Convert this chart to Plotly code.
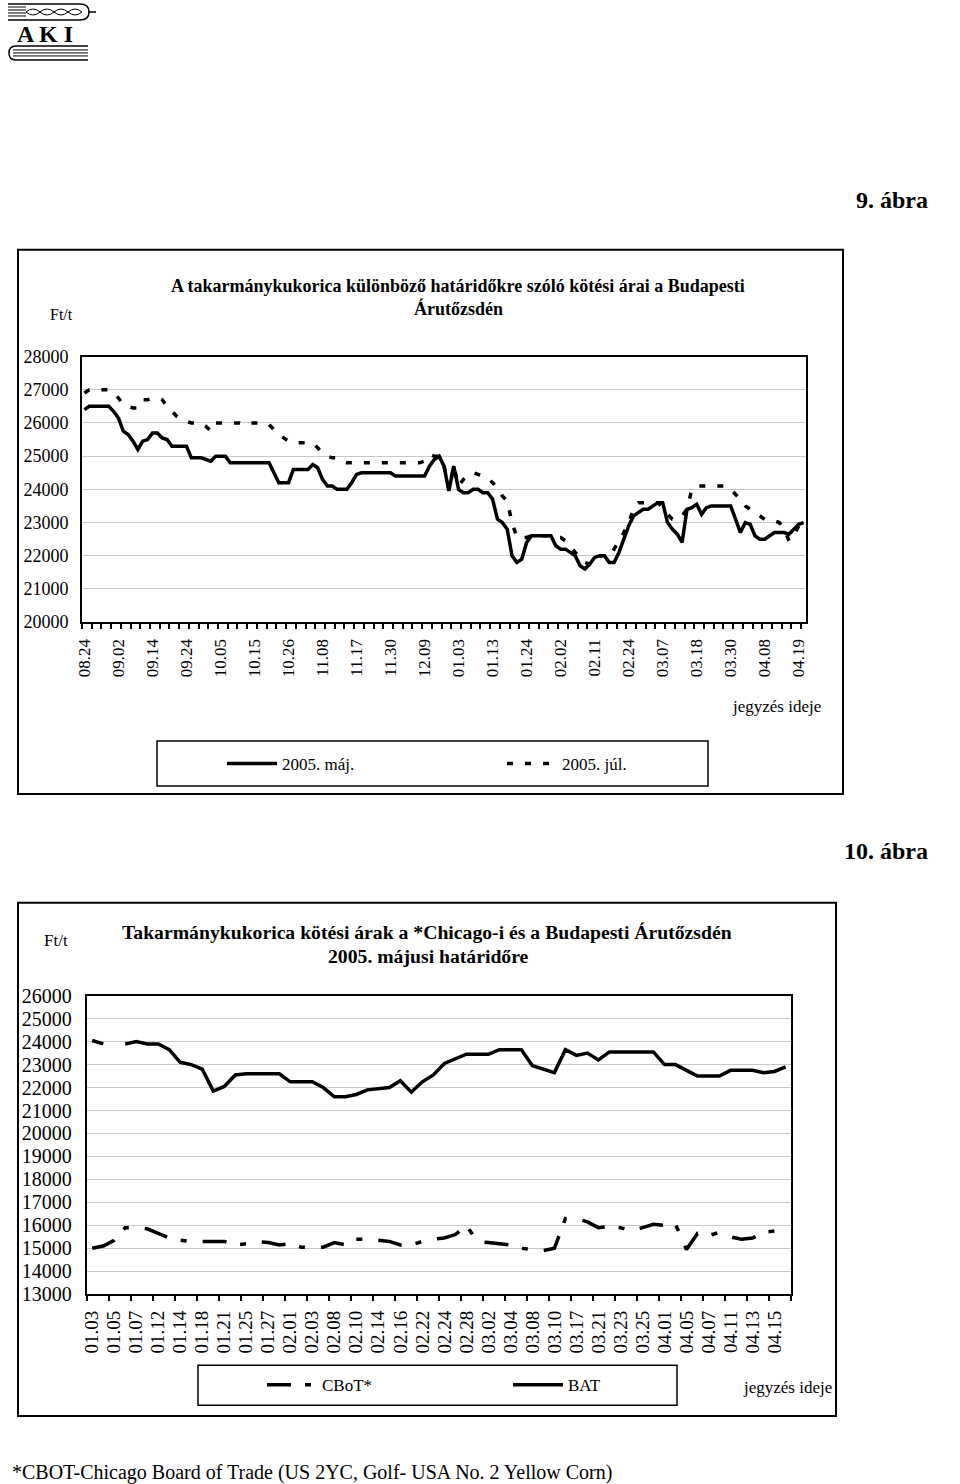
import plotly.graph_objects as go

# ---------------- data: chart 1 (9. ábra) ----------------
ticks1 = ["08.24", "09.02", "09.14", "09.24", "10.05", "10.15", "10.26", "11.08",
          "11.17", "11.30", "12.09", "01.03", "01.13", "01.24", "02.02", "02.11",
          "02.24", "03.07", "03.18", "03.30", "04.08", "04.19"]

may2005 = [26400, 26500, 26500, 26500, 26500, 26500, 26350, 26150, 25750, 25650,
           25450, 25200, 25450, 25500, 25700, 25700, 25550, 25500, 25300, 25300,
           25300, 25300, 24950, 24950, 24950, 24900, 24850, 25000, 25000, 25000,
           24800, 24800, 24800, 24820, 24800, 24800, 24800, 24800, 24800, 24500,
           24200, 24200, 24200, 24600, 24600, 24600, 24600, 24750, 24650, 24300,
           24100, 24100, 24000, 24000, 24000, 24200, 24450, 24500, 24500, 24500,
           24500, 24500, 24500, 24500, 24400, 24400, 24400, 24400, 24400, 24400,
           24400, 24700, 24900, 25000, 24700, 23950, 24700, 24000, 23900, 23900,
           24000, 24000, 23900, 23900, 23700, 23100, 23000, 22800, 22000, 21800,
           21900, 22400, 22600, 22600, 22600, 22600, 22600, 22300, 22200, 22200,
           22100, 22000, 21700, 21600, 21750, 21950, 22000, 22000, 21800, 21800,
           22100, 22500, 22900, 23200, 23300, 23400, 23400, 23500, 23600, 23600,
           23000, 22800, 22650, 22400, 23400, 23450, 23550, 23250, 23450, 23500,
           23500, 23500, 23500, 23500, 23100, 22700, 23000, 22950, 22600, 22500,
           22500, 22600, 22700, 22700, 22700, 22650, 22800, 22950, 23000]

jul2005 = [26900, 27000, 27000, 27000, 27000, 27000, 26900, 26750, 26550, 26500,
           26450, 26450, 26700, 26700, 26750, 26750, 26700, 26500, 26350, 26200,
           26100, 26050, 26000, 26000, 26000, 25900, 25750, 26000, 26000, 26000,
           26000, 26000, 26000, 25950, 26000, 26000, 26000, 26000, 25950, 25800,
           25650, 25550, 25450, 25400, 25400, 25400, 25400, 25400, 25250, 25100,
           25000, 24950, 24950, 24850, 24800, 24800, 24800, 24800, 24800, 24800,
           24800, 24800, 24800, 24800, 24800, 24800, 24800, 24800, 24800, 24800,
           24850, 25050, 25000, 25000, 24700, 24000, 24700, 24100, 24300, 24450,
           24500, 24450, 24400, 24350, 24200, 24050, 23800, 23650, 23000, 22550,
           22550, 22550, 22600, 22600, 22600, 22600, 22600, 22550, 22550, 22450,
           22300, 22100, 21950, 21800, 21750, 21950, 22000, 22000, 21950, 22200,
           22400, 22700, 23000, 23400, 23600, 23600, 23600, 23600, 23600, 23450,
           23250, 23100, 23100, 23200, 23400, 24000, 24100, 24100, 24100, 24100,
           24100, 24100, 24100, 24000, 23850, 23700, 23500, 23400, 23300, 23200,
           23100, 23100, 23050, 23000, 22800, 22450, 22600, 22900, 23000]

# ---------------- data: chart 2 (10. ábra) ----------------
ticks2 = ["01.03", "01.05", "01.07", "01.12", "01.14", "01.18", "01.21", "01.25",
          "01.27", "02.01", "02.03", "02.08", "02.10", "02.14", "02.16", "02.22",
          "02.24", "02.28", "03.02", "03.04", "03.08", "03.10", "03.17", "03.21",
          "03.23", "03.25", "04.01", "04.05", "04.07", "04.11", "04.13", "04.15"]

bat = [24050, 23900, None, 23900, 24000, 23900, 23900, 23650, 23100, 23000,
       22800, 21850, 22050, 22550, 22600, 22600, 22600, 22600, 22250, 22250,
       22250, 22000, 21600, 21600, 21700, 21900, 21950, 22000, 22300, 21800,
       22250, 22550, 23050, 23250, 23450, 23450, 23450, 23650, 23650, 23650,
       22950, 22800, 22650, 23650, 23400, 23500, 23200, 23550, 23550, 23550,
       23550, 23550, 23000, 23000, 22750, 22500, 22500, 22500, 22750, 22750,
       22750, 22650, 22700, 22900]

cbot = [15000, 15100, 15350, 15900, 15900, 15850, 15650, 15450, 15350, 15300,
        15300, 15300, 15300, 15150, 15200, 15300, 15250, 15150, 15200, 15050,
        15050, 15050, 15250, 15150, 15400, 15400, 15350, 15300, 15150, 15150,
        15300, 15400, 15450, 15600, 16000, 15300, 15250, 15200, 15150, 15000,
        14950, 14900, 15000, 16300, 16300, 16150, 15900, 15950, 15900, 15750,
        15900, 16050, 16000, 16050, 14950, 15650, 15550, 15700, 15500, 15400,
        15450, 15700, 15750, 15600]

W, H = 960, 1484
FONT = "Liberation Serif"
# page placement correction (page is shown slightly inset and scaled)
OX, OY, KX, KY = 7.0, 10.0, 0.9906, 0.9865


def px(x):
    return (x - OX) / KX / W


def py(y):
    return 1 - (y - OY) / KY / H


n1 = len(may2005)
n2 = len(bat)
x1 = list(range(n1))
x2 = list(range(n2))

fig = go.Figure()

# chart 1 traces
fig.add_trace(go.Scatter(x=x1, y=jul2005, mode="lines", name="2005. júl.",
                         line=dict(color="black", width=3.5, dash="6px,12px"),
                         xaxis="x", yaxis="y", legend="legend", legendrank=2))
fig.add_trace(go.Scatter(x=x1, y=may2005, mode="lines", name="2005. máj.",
                         line=dict(color="black", width=3.5),
                         xaxis="x", yaxis="y", legend="legend", legendrank=1))
# chart 2 traces
fig.add_trace(go.Scatter(x=x2, y=cbot, mode="lines", name="CBoT*",
                         line=dict(color="black", width=3.5, dash="24px,14px,6px,16px"),
                         xaxis="x2", yaxis="y2", legend="legend2", legendrank=1))
fig.add_trace(go.Scatter(x=x2, y=bat, mode="lines", name="BAT",
                         line=dict(color="black", width=3.5), connectgaps=False,
                         xaxis="x2", yaxis="y2", legend="legend2", legendrank=2))

axis_common = dict(showline=True, mirror=True, linecolor="black", linewidth=2,
                   zeroline=False)

fig.update_layout(
    width=W, height=H,
    margin=dict(l=0, r=0, t=0, b=0),
    paper_bgcolor="white", plot_bgcolor="white",
    font=dict(family=FONT, color="black"),
    xaxis=dict(domain=[px(82), px(806)], anchor="y", range=[-0.5, n1 - 0.5],
               tickmode="array", tickvals=list(range(0, n1, 7)), ticktext=ticks1,
               tickangle=-90, ticks="outside", ticklen=8, tickcolor="rgba(0,0,0,0)",
               tickfont=dict(size=17, family=FONT), showgrid=False,
               minor=dict(tickmode="array", tickvals=[k - 0.5 for k in range(0, n1 + 1, 2)],
                          ticks="outside", ticklen=5, tickcolor="black", tickwidth=1.5,
                          showgrid=False),
               **axis_common),
    yaxis=dict(domain=[py(622), py(356)], anchor="x", range=[20000, 28000],
               tickmode="linear", tick0=20000, dtick=1000, tickformat="d",
               ticks="outside", ticklen=8, tickcolor="rgba(0,0,0,0)",
               tickfont=dict(size=18, family=FONT), showgrid=True,
               gridcolor="#c8c8c8", gridwidth=1, **axis_common),
    xaxis2=dict(domain=[px(86.7), px(791)], anchor="y2", range=[-0.5, n2 - 0.5],
                tickmode="array", tickvals=list(range(0, n2, 2)), ticktext=ticks2,
                tickangle=-90, ticks="outside", ticklen=7, tickcolor="rgba(0,0,0,0)",
                tickfont=dict(size=19, family=FONT), showgrid=False,
                minor=dict(tickmode="array", tickvals=[k - 0.5 for k in range(0, n2 + 1, 2)],
                           ticks="outside", ticklen=5, tickcolor="black", tickwidth=1.5,
                           showgrid=False),
                **axis_common),
    yaxis2=dict(domain=[py(1295), py(996)], anchor="x2", range=[13000, 26000],
                tickmode="linear", tick0=13000, dtick=1000, tickformat="d",
                ticks="outside", ticklen=9, tickcolor="rgba(0,0,0,0)",
                tickfont=dict(size=20, family=FONT), showgrid=True,
                gridcolor="#c8c8c8", gridwidth=1, **axis_common),
    legend=dict(orientation="h", x=px(222), y=py(764), xanchor="left", yanchor="middle",
                bgcolor="rgba(0,0,0,0)", borderwidth=0, font=dict(size=17, family=FONT),
                entrywidth=215, entrywidthmode="pixels", itemwidth=50),
    legend2=dict(orientation="h", x=px(262), y=py(1386), xanchor="left", yanchor="middle",
                 bgcolor="rgba(0,0,0,0)", borderwidth=0, font=dict(size=17, family=FONT),
                 entrywidth=181, entrywidthmode="pixels", itemwidth=50),
    showlegend=True,
)

shapes = []
# outer frames
shapes.append(dict(type="rect", xref="paper", yref="paper", x0=px(18), x1=px(843),
                   y0=py(794), y1=py(249), line=dict(color="black", width=2)))
shapes.append(dict(type="rect", xref="paper", yref="paper", x0=px(18), x1=px(836),
                   y0=py(1417), y1=py(903), line=dict(color="black", width=2)))
# legend boxes
shapes.append(dict(type="rect", xref="paper", yref="paper", x0=px(157), x1=px(708),
                   y0=py(786), y1=py(741), line=dict(color="black", width=1.5)))
shapes.append(dict(type="rect", xref="paper", yref="paper", x0=px(198), x1=px(677),
                   y0=py(1406), y1=py(1366), line=dict(color="black", width=1.5)))

# logo (books)
top_book = (f"M {px(8)},{py(3)} L {px(80)},{py(3)} Q {px(89)},{py(3)} {px(89)},{py(11)} "
            f"Q {px(89)},{py(19)} {px(80)},{py(19)} L {px(8)},{py(19)}")
shapes.append(dict(type="path", xref="paper", yref="paper", path=top_book,
                   line=dict(color="black", width=1.5)))
shapes.append(dict(type="line", xref="paper", yref="paper", x0=px(89), x1=px(96),
                   y0=py(11), y1=py(11), line=dict(color="black", width=1.5)))
for yy in (6, 9, 12, 15):
    shapes.append(dict(type="line", xref="paper", yref="paper", x0=px(8), x1=px(26),
                       y0=py(yy), y1=py(yy), line=dict(color="black", width=1)))
for xx in (26, 40, 54, 68):
    shapes.append(dict(type="path", xref="paper", yref="paper",
                       path=f"M {px(xx)},{py(11)} Q {px(xx+7)},{py(5)} {px(xx+14)},{py(11)} "
                            f"Q {px(xx+7)},{py(17)} {px(xx)},{py(11)}",
                       line=dict(color="black", width=1)))
bot_book = (f"M {px(88)},{py(45)} L {px(16)},{py(45)} Q {px(9)},{py(45)} {px(9)},{py(52)} "
            f"Q {px(9)},{py(59)} {px(16)},{py(59)} L {px(88)},{py(59)}")
shapes.append(dict(type="path", xref="paper", yref="paper", path=bot_book,
                   line=dict(color="black", width=1.5)))
for yy in (49, 52, 55):
    shapes.append(dict(type="line", xref="paper", yref="paper", x0=px(13), x1=px(88),
                       y0=py(yy), y1=py(yy), line=dict(color="black", width=1)))
fig.update_layout(shapes=shapes)


def ann(text, x, y, size, xanchor="center", bold=False, yanchor="middle"):
    t = f"<b>{text}</b>" if bold else text
    fig.add_annotation(text=t, x=px(x), y=py(y), xref="paper", yref="paper",
                       showarrow=False, xanchor=xanchor, yanchor=yanchor,
                       font=dict(size=size, family=FONT, color="black"))


ann("A K I", 45, 33, 24, bold=True)
ann("9. ábra", 930, 199, 24, xanchor="right", bold=True)
ann("10. ábra", 930, 851, 24, xanchor="right", bold=True)

ann("A takarmánykukorica különböző határidőkre szóló kötési árai a Budapesti", 458, 285, 18, bold=True)
ann("Árutőzsdén", 458, 308, 18, bold=True)
ann("Ft/t", 61, 314, 16)
ann("jegyzés ideje", 823, 706, 17, xanchor="right")

ann("Takarmánykukorica kötési árak a *Chicago-i és a Budapesti Árutőzsdén", 427, 932, 19.7, bold=True)
ann("2005. májusi határidőre", 428, 956, 19.7, bold=True)
ann("Ft/t", 56, 941, 17)
ann("jegyzés ideje", 834, 1388, 17, xanchor="right")

ann("*CBOT-Chicago Board of Trade (US 2YC, Golf- USA No. 2 Yellow Corn)", 10, 1473, 20, xanchor="left")

fig.write_html("out.html", config={"displayModeBar": False},
               post_script="document.documentElement.style.margin='0';"
                           "document.body.style.margin='0';"
                           "document.body.style.padding='0';"
                           "document.body.style.overflow='hidden';")
